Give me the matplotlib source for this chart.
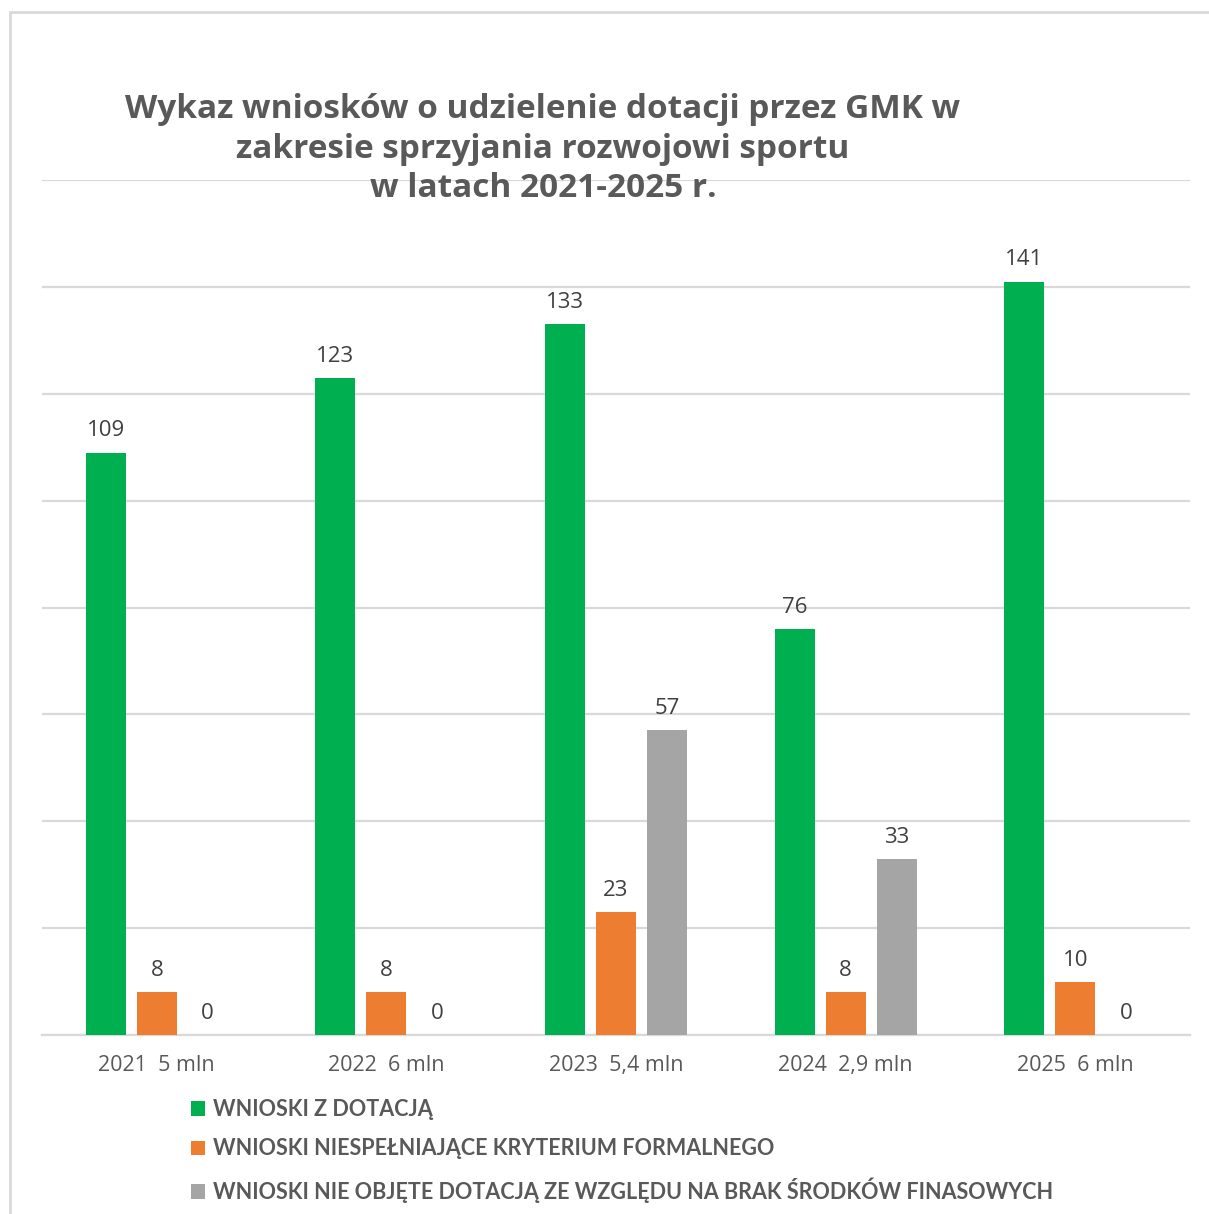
import matplotlib.pyplot as plt
from matplotlib.patches import Rectangle
import numpy as np

plt.rcParams['font.family'] = ['Open Sans', 'DejaVu Sans']

# dane
kategorie = ['2021  5 mln', '2022  6 mln', '2023  5,4 mln', '2024  2,9 mln', '2025  6 mln']
z_dotacja = [109, 123, 133, 76, 141]
niespelniajace = [8, 8, 23, 8, 10]
brak_srodkow = [0, 0, 57, 33, 0]

serie = ['WNIOSKI Z DOTACJĄ',
         'WNIOSKI NIESPEŁNIAJĄCE KRYTERIUM FORMALNEGO',
         'WNIOSKI NIE OBJĘTE DOTACJĄ ZE WZGLĘDU NA BRAK ŚRODKÓW FINASOWYCH']
kolory = ['#00B050', '#ED7D31', '#A5A5A5']
szary_tekst = '#595959'

fig = plt.figure(figsize=(12.09, 12.14), dpi=100)
ax = fig.add_axes([0.0347, 0.1474, 0.9496, 0.7043])

x = np.arange(len(kategorie))
szer = 0.174
krok = 0.222

słupki = []
for i, (dane, kolor, nazwa) in enumerate(zip([z_dotacja, niespelniajace, brak_srodkow], kolory, serie)):
    b = ax.bar(x + (i - 1) * krok, dane, szer, color=kolor, label=nazwa, zorder=3)
    słupki.append(b)
    ax.bar_label(b, padding=8, fontsize=16, color='#404040')

ax.set_xlim(-0.5, len(kategorie) - 0.5)
ax.set_ylim(0, 160)
ax.set_yticks(np.arange(0, 161, 20))
ax.yaxis.grid(True, color='#D9D9D9', linewidth=1.6, zorder=0)
ax.tick_params(axis='y', left=False, labelleft=False)
ax.set_xticks(x)
ax.set_xticklabels(kategorie, fontsize=15.5, color=szary_tekst)
ax.tick_params(axis='x', length=0, pad=14)
for s in ['top', 'right', 'left']:
    ax.spines[s].set_visible(False)
ax.spines['bottom'].set_color('#D9D9D9')
ax.spines['bottom'].set_linewidth(1.6)

fig.text(0.449, 1 - 149 / 1214,
         'Wykaz wniosków o udzielenie dotacji przez GMK w\nzakresie sprzyjania rozwojowi sportu\nw latach 2021-2025 r.',
         ha='center', va='center', fontsize=24, fontweight='bold', color=szary_tekst,
         linespacing=1.25)

leg = fig.legend(handles=słupki, loc='upper left', bbox_to_anchor=(191 / 1209, 1 - 1099 / 1214),
                 frameon=False, fontsize=15.5, handlelength=0.65, handleheight=0.65,
                 handletextpad=0.35, labelspacing=0.85, borderaxespad=0, borderpad=0,
                 prop={'family': ['Lato', 'DejaVu Sans'], 'weight': 'bold', 'size': 15.5})
for t in leg.get_texts():
    t.set_color(szary_tekst)

# ramka wykresu
fig.patches.append(Rectangle((10 / 1209, -0.05), 1.2, 1 - 12 / 1214 + 0.05, transform=fig.transFigure,
                             fill=False, edgecolor='#D9D9D9', linewidth=2))

fig.savefig('out.png', dpi=100, facecolor='white')
